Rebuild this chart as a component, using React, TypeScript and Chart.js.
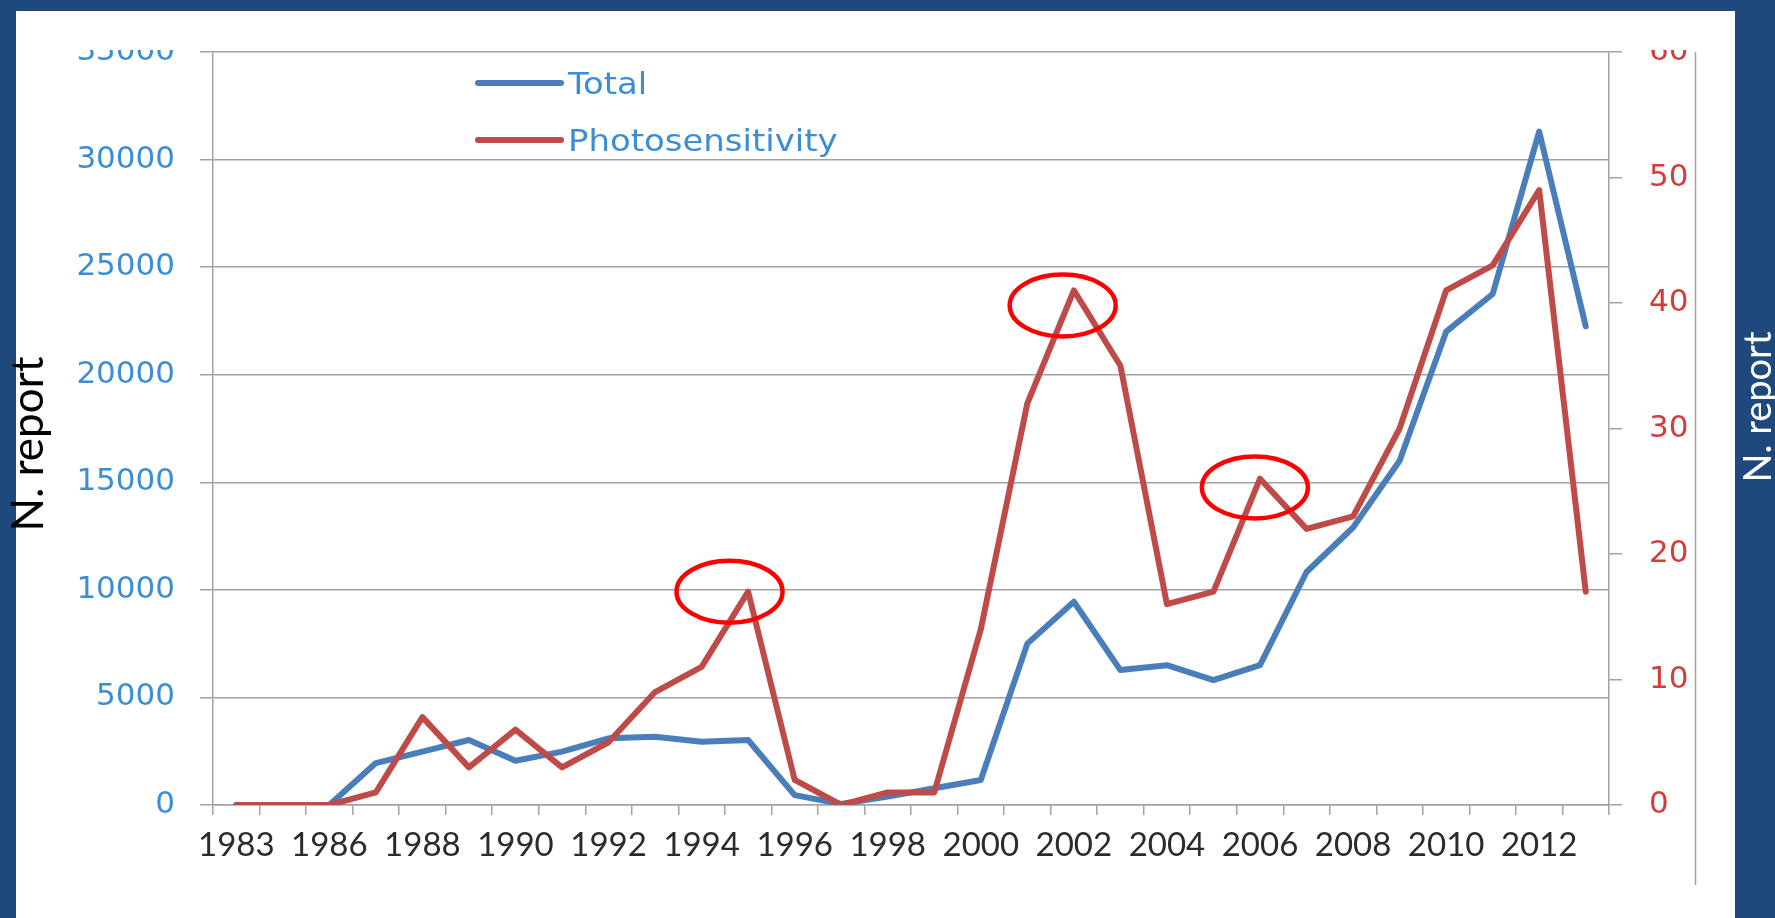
import React, { useEffect, useRef } from 'react';
import { Chart, registerables } from 'chart.js';

Chart.register(...registerables);

const categories = [
  '1983', '1985', '1986', '1987', '1988', '1989', '1990', '1991', '1992', '1993',
  '1994', '1995', '1996', '1997', '1998', '1999', '2000', '2001', '2002', '2003',
  '2004', '2005', '2006', '2007', '2008', '2009', '2010', '2011', '2012', '2013',
];

const totalReports = [
  0, 0, 0, 1950, 2480, 3020, 2060, 2480, 3100, 3170,
  2940, 3020, 460, 50, 390, 780, 1160, 7500, 9450, 6270,
  6500, 5800, 6500, 10830, 12900, 16000, 22000, 23750, 31300, 22250,
];

const photosensitivityReports = [
  0, 0, 0, 1, 7, 3, 6, 3, 5, 9,
  11, 17, 2, 0, 1, 1, 14, 32, 41, 35,
  16, 17, 26, 22, 23, 30, 41, 43, 49, 17,
];

const seriesLabels = ['Total', 'Photosensitivity'];
const axisTitle = 'N. report';

// highlighted peaks: fractional category position and value on the right axis
const highlightX = [10.6, 17.76, 21.89];
const highlightY = [17, 39.8, 25.3];

const W = 1775;
const H = 918;
const GRID = '#a2a2a2';
const BLUE_TEXT = '#3b8ed3';
const RED_TEXT = '#d63b3b';

const decorPlugin = {
  id: 'decor',
  beforeDraw(chart: any) {
    const ctx = chart.ctx;
    ctx.save();
    ctx.fillStyle = '#1f497d';
    ctx.fillRect(0, 0, W, H);
    ctx.fillStyle = '#ffffff';
    ctx.fillRect(16, 11, 1719, H - 11);
    ctx.restore();
  },
  afterDatasetsDraw(chart: any) {
    const ctx = chart.ctx;
    const xs = chart.scales.x;
    const ys = chart.scales.y2;
    ctx.save();
    ctx.strokeStyle = '#ff0000';
    ctx.lineWidth = 4.5;
    for (let i = 0; i < highlightX.length; i++) {
      const cx = xs.getPixelForValue(highlightX[i]);
      const cy = ys.getPixelForValue(highlightY[i]);
      ctx.beginPath();
      ctx.ellipse(cx, cy, 53, 31, 0, 0, Math.PI * 2);
      ctx.stroke();
    }
    ctx.restore();
  },
  afterDraw(chart: any) {
    const ctx = chart.ctx;
    const area = chart.chartArea;
    ctx.save();
    // the slide crops the top of the chart
    ctx.fillStyle = '#ffffff';
    ctx.fillRect(16, 11, 1719, area.top - 13);

    // outer vertical rule at the right
    ctx.strokeStyle = GRID;
    ctx.lineWidth = 1.5;
    ctx.beginPath();
    ctx.moveTo(1695.5, area.top);
    ctx.lineTo(1695.5, 885);
    ctx.stroke();

    // legend
    const ds = chart.data.datasets;
    const rows = [83, 140];
    ds.forEach((d: any, i: number) => {
      const y = rows[i];
      ctx.strokeStyle = d.borderColor;
      ctx.lineWidth = 6;
      ctx.lineCap = 'round';
      ctx.beginPath();
      ctx.moveTo(478, y);
      ctx.lineTo(561, y);
      ctx.stroke();
      ctx.save();
      ctx.translate(568, y + 10.5);
      ctx.scale(1.15, 1);
      ctx.fillStyle = BLUE_TEXT;
      ctx.font = '29.5px "DejaVu Sans"';
      ctx.textAlign = 'left';
      ctx.textBaseline = 'alphabetic';
      ctx.fillText(d.label, 0, 0);
      ctx.restore();
    });

    // axis titles
    ctx.save();
    ctx.translate(43, 444);
    ctx.rotate(-Math.PI / 2);
    ctx.fillStyle = '#000000';
    ctx.font = '44px Lato';
    ctx.textAlign = 'center';
    ctx.textBaseline = 'alphabetic';
    ctx.fillText(axisTitle, 0, 0);
    ctx.restore();

    ctx.save();
    ctx.translate(1771, 407);
    ctx.rotate(-Math.PI / 2);
    ctx.fillStyle = '#ffffff';
    ctx.font = '38px Lato';
    ctx.textAlign = 'center';
    ctx.textBaseline = 'alphabetic';
    ctx.fillText(axisTitle, 0, 0);
    ctx.restore();

    ctx.restore();
  },
};

export default function App() {
  const ref = useRef<HTMLCanvasElement | null>(null);

  useEffect(() => {
    if (!ref.current) return;
    const chart = new Chart(ref.current, {
      type: 'line',
      data: {
        labels: categories,
        datasets: [
          {
            label: seriesLabels[0],
            data: totalReports,
            borderColor: '#4a7ebb',
            backgroundColor: '#4a7ebb',
            borderWidth: 6,
            pointRadius: 0,
            tension: 0,
            borderJoinStyle: 'round',
            borderCapStyle: 'round',
            yAxisID: 'y',
            order: 1,
          },
          {
            label: seriesLabels[1],
            data: photosensitivityReports,
            borderColor: '#be4b48',
            backgroundColor: '#be4b48',
            borderWidth: 6,
            pointRadius: 0,
            tension: 0,
            borderJoinStyle: 'round',
            borderCapStyle: 'round',
            yAxisID: 'y2',
            order: 0,
          },
        ],
      },
      options: {
        animation: false,
        responsive: false,
        devicePixelRatio: 1,
        layout: { padding: { top: 52, left: 0, right: 0, bottom: 0 } },
        plugins: {
          legend: { display: false },
          tooltip: { enabled: false },
        },
        scales: {
          x: {
            type: 'category',
            offset: true,
            grid: {
              offset: true,
              drawOnChartArea: false,
              drawTicks: true,
              tickLength: 10,
              color: GRID,
              lineWidth: 1.5,
            },
            border: { color: GRID, width: 1.5 },
            ticks: {
              autoSkip: false,
              maxRotation: 0,
              minRotation: 0,
              padding: 11,
              color: '#2b2b2b',
              font: { family: 'Lato', size: 33 },
              callback: (_v: any, i: number) => (i % 2 === 0 ? categories[i] : ''),
            },
            afterFit: (s: any) => {
              s.height = 113;
            },
          },
          y: {
            position: 'left',
            min: 0,
            max: 35000,
            grid: {
              color: GRID,
              lineWidth: 1.5,
              tickLength: 13,
            },
            border: { color: GRID, width: 1.5 },
            ticks: {
              stepSize: 5000,
              padding: 25,
              color: BLUE_TEXT,
              font: { family: 'DejaVu Sans', size: 31 },
              callback: (v: any) => String(v),
            },
            afterFit: (s: any) => {
              s.width = 213;
            },
          },
          y2: {
            position: 'right',
            min: 0,
            max: 60,
            grid: {
              drawOnChartArea: false,
              color: GRID,
              lineWidth: 1.5,
              tickLength: 13,
            },
            border: { color: GRID, width: 1.5 },
            ticks: {
              stepSize: 10,
              padding: 27,
              color: RED_TEXT,
              font: { family: 'DejaVu Sans', size: 31 },
              callback: (v: any) => String(v),
            },
            afterFit: (s: any) => {
              s.width = 166;
            },
          },
        },
      } as any,
      plugins: [decorPlugin],
    });
    return () => chart.destroy();
  }, []);

  return (
    <div style={{ position: 'fixed', left: 0, top: 0, width: W, height: H, overflow: 'hidden' }}>
      <canvas ref={ref} width={W} height={H} />
    </div>
  );
}
